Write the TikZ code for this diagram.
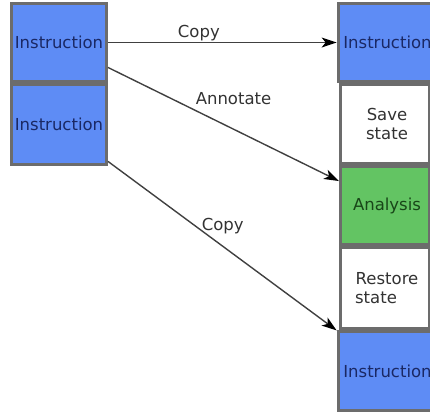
\documentclass[tikz,border=0pt]{standalone}
\usepackage{fontspec}
\setmainfont{DejaVu Sans}
\usetikzlibrary{arrows.meta}
\definecolor{boxblue}{RGB}{94,140,245}
\definecolor{boxgreen}{RGB}{99,196,99}
\definecolor{boxedge}{RGB}{108,108,108}
\definecolor{insttext}{RGB}{26,40,100}
\definecolor{anatext}{RGB}{24,70,24}
\definecolor{plaintext}{RGB}{50,50,50}
\definecolor{arrowline}{RGB}{64,64,64}
\tikzset{
  blk/.style={draw=boxedge, line width=3.4pt, inner sep=0pt, align=center,
    font=\fontsize{16.5}{19.8}\selectfont},
  inst/.style={blk, fill=boxblue, text=insttext},
  ana/.style={blk, fill=boxgreen, text=anatext},
  plainbox/.style={blk, fill=white, text=plaintext},
  conn/.style={draw=arrowline, line width=1.4pt,
    -{Stealth[length=15pt,width=10pt,inset=4pt,color=black]}},
  lbl/.style={text=plaintext, inner sep=0pt, anchor=base west,
    font=\fontsize{16.5}{19.8}\selectfont}
}
\begin{document}
\begin{tikzpicture}[x=1pt,y=-1pt]
\useasboundingbox (0,0) rectangle (430,413);
\clip (0,0) rectangle (430,413);
% left column
\node[inst, minimum width=94.6pt, minimum height=77.6pt] (L1) at (59,42.5) {Instruction};
\node[inst, minimum width=94.6pt, minimum height=79.6pt] (L2) at (59,124.5) {Instruction};
% right column
\node[inst, minimum width=88.6pt, minimum height=77.6pt] (R1) at (385,42.5) {\hspace*{5pt}Instruction};
\node[plainbox, minimum width=88.6pt, minimum height=78.6pt] (R2) at (385,124) {\hspace*{4pt}Save\\\hspace*{4pt}state};
\node[ana, minimum width=88.6pt, minimum height=77.6pt] (R3) at (385,205.5) {\hspace*{4pt}Analysis};
\node[plainbox, minimum width=88.6pt, minimum height=80.6pt] (R4) at (385,288) {\hspace*{4pt}Restore\\state\hspace*{18pt}};
\node[inst, minimum width=88.6pt, minimum height=78.6pt] (R5) at (385,371) {\hspace*{5pt}Instruction};
% connectors
\draw[conn] (L1.east) -- (R1.west)
  node[lbl, pos=0.303, yshift=5pt] {Copy};
\draw[conn] (L1.-27.5) -- (R3.152.4)
  node[lbl, pos=0.377, yshift=6pt] {Annotate};
\draw[conn] (L2.-37) -- (R5.140)
  node[lbl, pos=0.407] {Copy};
\end{tikzpicture}
\end{document}
